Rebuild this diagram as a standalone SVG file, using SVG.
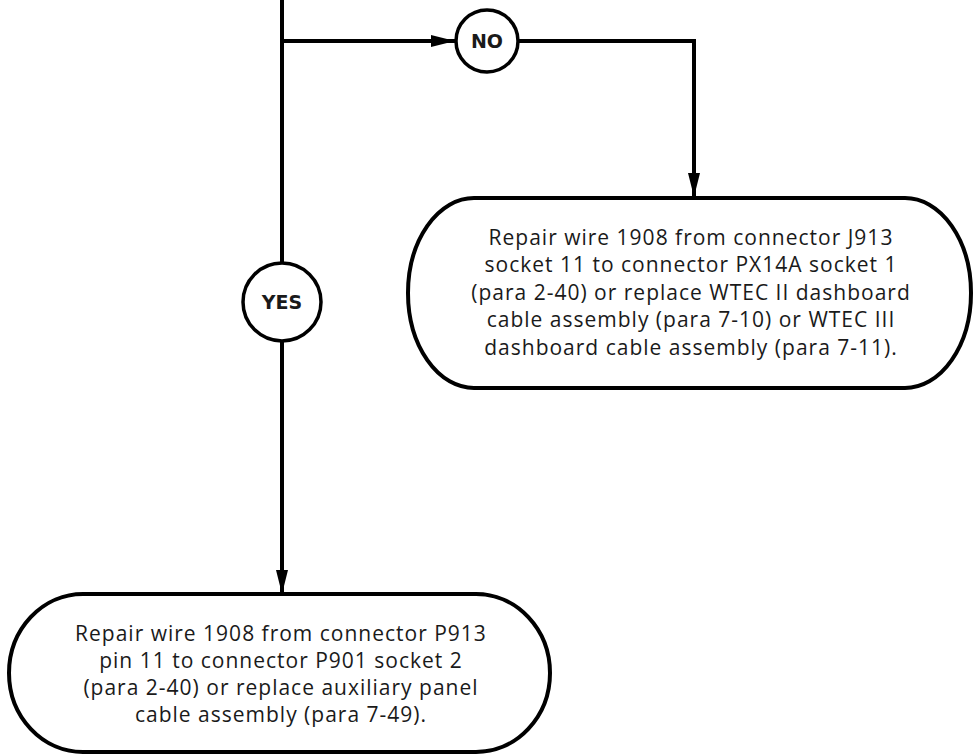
<svg xmlns="http://www.w3.org/2000/svg" width="973" height="754" viewBox="0 0 973 754">
<style>
.ln{fill:none;stroke:#000;stroke-width:4}
.box{fill:#fff;stroke:#000;stroke-width:4}
.cir{fill:#fff;stroke:#000;stroke-width:3.5}
.t{font-family:"Open Sans","DejaVu Sans",sans-serif;font-size:21px;letter-spacing:1px;fill:#1a1a1a;text-anchor:middle}
.lb{font-family:"DejaVu Sans","Liberation Sans",sans-serif;font-size:19px;font-weight:bold;fill:#1a1a1a;text-anchor:middle}
</style>
<defs>
<marker id="ah" viewBox="0 0 24 12" refX="24" refY="6" markerWidth="24" markerHeight="12" markerUnits="userSpaceOnUse" orient="auto">
<path d="M0,0 L24,6 L0,12 Z" fill="#000"/>
</marker>
</defs>
<g id="connectors">
<path class="ln" d="M282,0 V263"/>
<path class="ln" d="M282,41 H455" marker-end="url(#ah)"/>
<path class="ln" d="M519,41 H694 V197" marker-end="url(#ah)"/>
<path class="ln" d="M282,341 V594" marker-end="url(#ah)"/>
</g>
<g id="no">
<circle class="cir" cx="487" cy="41" r="31"/>
<text class="lb" x="487" y="48">NO</text>
</g>
<g id="yes">
<circle class="cir" cx="282" cy="302" r="39"/>
<text class="lb" x="282" y="309">YES</text>
</g>
<g id="repair-j913">
<rect class="box" x="408" y="198" width="563" height="190" rx="66" ry="95"/>
<text class="t" x="691" y="245">Repair wire 1908 from connector J913</text>
<text class="t" x="691" y="272">socket 11 to connector PX14A socket 1</text>
<text class="t" x="691" y="300">(para 2-40) or replace WTEC II dashboard</text>
<text class="t" x="691" y="327">cable assembly (para 7-10) or WTEC III</text>
<text class="t" x="691" y="355">dashboard cable assembly (para 7-11).</text>
</g>
<g id="repair-p913">
<rect class="box" x="9" y="594" width="541" height="158" rx="74" ry="79"/>
<text class="t" x="281" y="641">Repair wire 1908 from connector P913</text>
<text class="t" x="281" y="668">pin 11 to connector P901 socket 2</text>
<text class="t" x="281" y="695">(para 2-40) or replace auxiliary panel</text>
<text class="t" x="281" y="722">cable assembly (para 7-49).</text>
</g>
</svg>
